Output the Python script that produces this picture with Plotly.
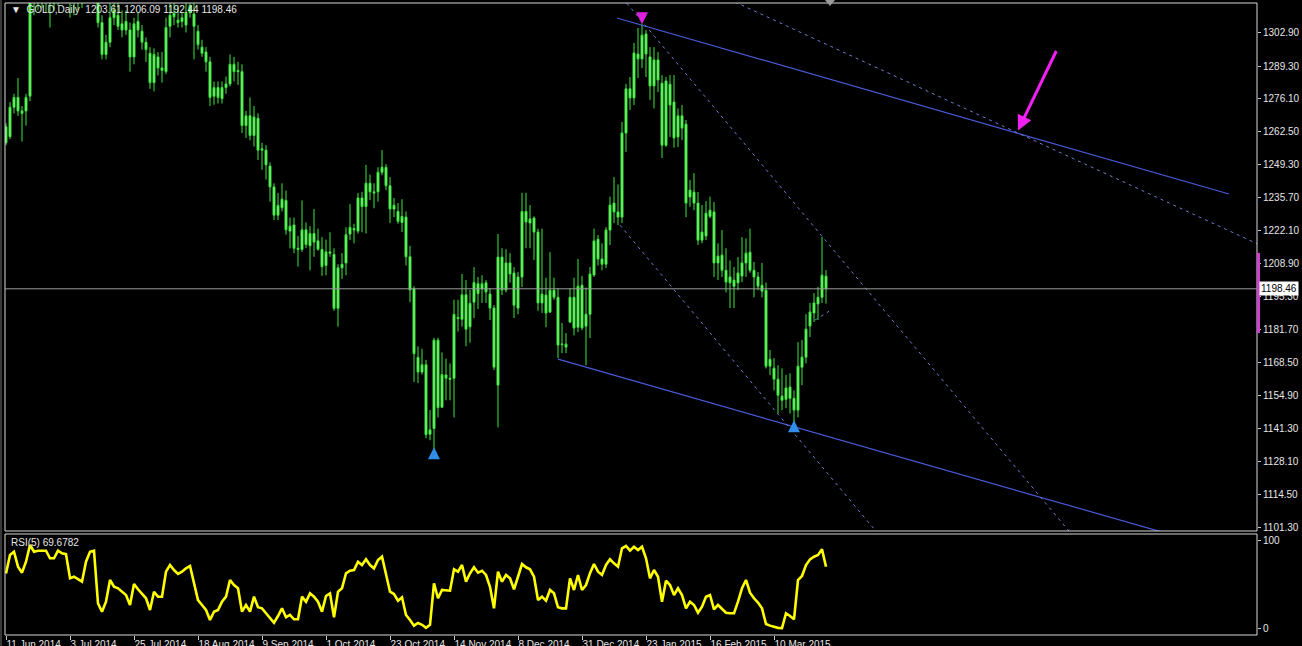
import plotly.graph_objects as go

# ---------------- data ----------------
opens = [
    1264.5, 1260.5, 1272.5, 1276.5, 1271, 1271, 1277, 1316, 1316, 1318,
    1321, 1322, 1315, 1319, 1327, 1326, 1325, 1320, 1318, 1317,
    1324, 1325, 1338, 1337, 1307, 1294, 1299, 1309, 1310, 1306.5,
    1304, 1304, 1293, 1307.5, 1303.5, 1299, 1294.5, 1282.5, 1293, 1288.5,
    1287, 1305.5, 1310.8, 1308, 1307.5, 1306, 1311, 1310.5, 1303.5, 1297,
    1295, 1291, 1277, 1280.5, 1276, 1280.5, 1282, 1290, 1287, 1287,
    1265, 1269, 1261, 1268, 1255, 1255, 1248.5, 1240, 1228.5, 1231.5,
    1234.5, 1222, 1224.5, 1215, 1214.5, 1222.5, 1216, 1221, 1218, 1214.5,
    1208, 1213.5, 1212.5, 1190.5, 1207, 1209, 1220.8, 1223, 1222, 1235.5,
    1232, 1241.5, 1238, 1238, 1246, 1248, 1240.5, 1231, 1230, 1225.5,
    1227.7, 1211.5, 1198.5, 1170.5, 1164.5, 1167.5, 1139.2, 1141.5, 1177.5, 1150.2,
    1163.3, 1162, 1162, 1186.8, 1186, 1196, 1183, 1193, 1200.5, 1198.4,
    1200.9, 1196.3, 1190.6, 1159.2, 1211.4, 1198, 1209, 1204.9, 1190.6, 1203.3,
    1230, 1225.3, 1227.3, 1221.6, 1192.7, 1195.9, 1189, 1197.9, 1195, 1176,
    1174.7, 1184.9, 1195, 1182.8, 1199.9, 1183.2, 1188.1, 1204.1, 1218.7, 1210.6,
    1208.5, 1222.4, 1233.4, 1229.8, 1227.7, 1262, 1280, 1276.3, 1294.2, 1292.2,
    1302.4, 1293, 1281.2, 1291.8, 1282.3, 1257, 1281.9, 1274.6, 1260.4, 1269,
    1265.6, 1235.9, 1237.9, 1233.4, 1218.3, 1220, 1228, 1229.8, 1209, 1212.2,
    1206, 1203.3, 1199.5, 1200.9, 1203.7, 1209, 1213.4, 1206, 1203.3, 1199.9,
    1197.9, 1169.7, 1166.1, 1161.6, 1153, 1158, 1153.8, 1153.8, 1149, 1166.5,
    1170.6, 1183.3, 1188.6, 1192.3, 1195, 1203.61,
]
highs = [
    1266, 1274.6, 1278, 1284.4, 1273, 1278, 1321, 1325, 1324, 1326,
    1325, 1324, 1321, 1328, 1332, 1331, 1327, 1322, 1321, 1325,
    1330, 1345, 1341, 1338, 1310, 1302, 1318, 1318, 1316, 1312,
    1312, 1307, 1309, 1311, 1306, 1301, 1297, 1296.5, 1295, 1295,
    1309, 1316, 1321, 1314, 1311, 1315, 1320, 1321, 1306, 1300,
    1297, 1293, 1283, 1283, 1283, 1285, 1294, 1293, 1291, 1290,
    1271, 1276.5, 1273, 1270, 1258, 1257, 1250, 1241.5, 1237.5, 1241.5,
    1238.5, 1227.5, 1227.5, 1220, 1234.5, 1225.5, 1224, 1231, 1223, 1219.5,
    1218.5, 1221.5, 1215, 1208.5, 1213, 1223.5, 1233, 1225, 1237.5, 1238,
    1249, 1245, 1241.5, 1248, 1255, 1249.3, 1244, 1235.5, 1233.4, 1235,
    1230, 1216, 1199.5, 1175, 1174, 1169.5, 1149, 1178.5, 1178.5, 1172.5,
    1170, 1168, 1194, 1194, 1204.5, 1202, 1198, 1207.3, 1203.3, 1204,
    1202, 1198.7, 1191.8, 1220.8, 1215, 1214.6, 1213, 1207.3, 1205.3, 1237.6,
    1237.6, 1232.6, 1228, 1223, 1223, 1203, 1213.4, 1203, 1198.7, 1184.5,
    1180.4, 1198.7, 1203, 1210.6, 1203.7, 1199, 1207.3, 1223, 1220.4, 1217,
    1223.6, 1236, 1244, 1241, 1266.5, 1282, 1284.8, 1298.7, 1304.8, 1306.5,
    1304, 1297, 1297, 1295, 1285.6, 1284.8, 1285.6, 1285.6, 1272, 1273.4,
    1267.3, 1242.8, 1245.6, 1237.9, 1232.6, 1234.2, 1236, 1233.8, 1217, 1222.4,
    1215, 1210, 1207.3, 1211.4, 1219.5, 1219, 1223, 1209.4, 1205.3, 1209,
    1201, 1173.5, 1170.2, 1167.3, 1166, 1163.3, 1164, 1157, 1176.7, 1177.6,
    1188.1, 1192.7, 1196.7, 1199.2, 1219.6, 1206.09,
]
lows = [
    1257, 1259.5, 1270, 1269, 1258.5, 1265, 1275, 1310, 1312, 1313,
    1311, 1305, 1312, 1314, 1320, 1318, 1309, 1310, 1312, 1313,
    1316, 1322, 1330, 1305, 1292, 1292, 1297, 1306, 1304, 1301,
    1302, 1287, 1290, 1301, 1296, 1291, 1280, 1279, 1285.5, 1282.5,
    1286, 1301, 1306, 1305, 1305, 1303, 1309, 1292, 1296, 1293,
    1287, 1273, 1273.5, 1274, 1274, 1278, 1281, 1283, 1281.6, 1262,
    1260, 1259, 1256.5, 1251, 1247, 1243, 1234, 1226.5, 1226.5, 1230,
    1220.5, 1215, 1213, 1207.5, 1213.5, 1215, 1206, 1211.5, 1214, 1203.7,
    1204, 1211.5, 1189.5, 1183, 1202.5, 1204, 1218.3, 1217, 1221, 1221.5,
    1221, 1234.6, 1231.3, 1234, 1244.8, 1238.7, 1225.3, 1227.7, 1225, 1221.6,
    1208, 1193, 1160.5, 1160, 1163.5, 1137.5, 1136.7, 1132.5, 1146, 1149.8,
    1153, 1153, 1146, 1181, 1183, 1175, 1176.5, 1186.5, 1190.2, 1192.7,
    1192.7, 1185.7, 1165.3, 1142, 1195.9, 1197, 1201, 1186.5, 1188.1, 1199.2,
    1215, 1215, 1210.2, 1189.5, 1188.6, 1182.8, 1188.6, 1194, 1170.2, 1172.2,
    1172.2, 1184.5, 1179.5, 1180.8, 1181.6, 1167.3, 1178.4, 1203.3, 1208, 1206,
    1206.9, 1216.3, 1225.3, 1224.4, 1225.3, 1254.3, 1271.4, 1273.4, 1284.4, 1288.5,
    1284.8, 1275.5, 1272, 1278.7, 1251.8, 1256.3, 1260.4, 1256, 1256.3, 1259.1,
    1227.7, 1231.9, 1230.5, 1216.3, 1217, 1218.3, 1227.3, 1203.3, 1202, 1203.3,
    1197, 1190.6, 1190.6, 1197.9, 1201.2, 1203.3, 1205, 1195, 1197.9, 1195,
    1166, 1163.3, 1157, 1147.6, 1149, 1149.8, 1147.6, 1143, 1146, 1159.2,
    1168.1, 1178.8, 1184.9, 1185.7, 1192.7, 1192.44,
]
closes = [
    1258, 1272.5, 1276.5, 1271, 1270, 1276.5, 1316, 1316, 1318, 1321,
    1322, 1315, 1319, 1327, 1326, 1325, 1320, 1318, 1317, 1324,
    1325, 1338, 1337, 1307, 1294, 1299, 1309, 1312, 1305.5, 1304,
    1307.5, 1293, 1306.5, 1304, 1299, 1296, 1282.5, 1294, 1288.5, 1287.5,
    1305, 1310, 1309.4, 1307, 1309, 1311, 1314, 1305.5, 1298, 1294.5,
    1291, 1276.5, 1280.5, 1276.5, 1280.5, 1282, 1290, 1287, 1287.5, 1265,
    1269, 1261, 1268.5, 1255, 1255.5, 1249, 1240, 1228.5, 1232.5, 1235,
    1222.5, 1224, 1215, 1214.5, 1222.5, 1216.5, 1221, 1217.5, 1214.6, 1207.5,
    1213.5, 1213, 1190.5, 1207, 1208.5, 1220.5, 1223.5, 1222.5, 1235.5, 1232,
    1241.5, 1238, 1237.5, 1246, 1248, 1240.5, 1231, 1232.5, 1226, 1228,
    1211.5, 1198, 1172, 1164.5, 1167.5, 1139, 1141, 1177.5, 1150, 1163.5,
    1162, 1161.6, 1188, 1186.3, 1196, 1182, 1192.5, 1201, 1196.5, 1200.5,
    1197.2, 1190.6, 1166.5, 1211.4, 1198, 1209, 1204.5, 1191.8, 1203.3, 1230,
    1225.7, 1226.9, 1221.6, 1192.7, 1196.3, 1188.6, 1197.9, 1195, 1175.5, 1175.7,
    1175.9, 1195, 1182.5, 1199.5, 1182.5, 1188.1, 1204.5, 1218, 1210.6, 1208.5,
    1222.4, 1232.6, 1229.8, 1227.7, 1262, 1280, 1276.3, 1294.6, 1292.2, 1301.9,
    1294.2, 1281.2, 1291.8, 1283.6, 1257, 1283.2, 1273.4, 1260, 1269, 1264,
    1233.4, 1238.7, 1233.4, 1218.3, 1221.6, 1229.3, 1230.5, 1209, 1211.8, 1206,
    1201.2, 1200.9, 1202, 1204.9, 1209, 1213, 1206, 1203.3, 1199.5, 1197.5,
    1166.9, 1166.9, 1161.6, 1155.1, 1154.7, 1153.4, 1158.4, 1149, 1166.9, 1170.6,
    1182, 1189, 1192.7, 1195, 1204, 1198.46,
]
rsi = [
    62, 83, 86.7, 69.8, 63, 75.4, 94.3, 86.7, 87.9, 87.9,
    87.9, 79.3, 79.3, 87.9, 84.9, 84, 56.6, 58.4, 55.5, 52.8,
    75.4, 86.7, 87.9, 28.3, 18.8, 30.1, 54.7, 47.1, 45.3, 41.4,
    37.7, 26.4, 50.2, 44.2, 39.6, 34, 20.7, 41.4, 35.8, 35.8,
    64.1, 71.7, 66, 61.5, 64.1, 67.9, 70.6, 52.8, 32, 26.4,
    20.7, 9.4, 18.8, 20.7, 30.1, 35.8, 54.7, 49, 45.3, 18.8,
    26.4, 18.8, 35.8, 23.8, 22.6, 17, 11.3, 6.3, 13.9, 22.6,
    12.5, 15.1, 10.2, 10.2, 35.8, 30.1, 39.6, 35.8, 30.1, 18.8,
    36.6, 39.6, 12.5, 41.4, 45.3, 62.3, 65.2, 66, 75.4, 71.7,
    78.1, 71.7, 67.9, 77.4, 81.1, 60.4, 41.4, 38.8, 31.3, 35.1,
    15.1, 9.4, 3, 6, 4, 0.5, 4, 51, 34, 43.4,
    42.6, 42.6, 66.8, 64.1, 71.7, 52.8, 62.3, 69.1, 63, 65.2,
    60.4, 47.1, 22.6, 64.1, 52.8, 60.4, 56.6, 44.2, 58.4, 72.8,
    69.1, 66.8, 58.4, 32, 35.8, 31.3, 43.4, 39.6, 23.8, 22.6,
    22.6, 56.6, 43.4, 60.4, 43.4, 49, 62.3, 72.8, 64.1, 60.4,
    71.7, 78.1, 73.6, 69.8, 90.6, 93.2, 87.9, 92.4, 88.7, 92.4,
    79.3, 56.6, 66, 58.4, 30.1, 53.9, 49, 37.7, 45.3, 37.7,
    22.6, 30.1, 26.4, 17.7, 24.5, 35.8, 37.7, 21.5, 26.4, 22.6,
    17.7, 17, 17, 30.1, 45.3, 54.7, 40.3, 34, 29.1, 22.6,
    4.9, 3, 1.8, 0.5, 0.3, 17, 13.9, 10.2, 54.7, 59.2,
    71.7, 78.1, 81.1, 83, 89.4, 69.68,
]
date_tick_bars = [0, 16, 32, 48, 64, 80, 96, 112, 128, 144, 160, 176, 192]
date_tick_labels = ["11 Jun 2014", "3 Jul 2014", "25 Jul 2014", "18 Aug 2014",
                    "9 Sep 2014", "1 Oct 2014", "23 Oct 2014", "14 Nov 2014",
                    "8 Dec 2014", "31 Dec 2014", "23 Jan 2015", "16 Feb 2015",
                    "10 Mar 2015"]
price_ticks = [1302.90, 1289.30, 1276.10, 1262.50, 1249.30, 1235.70, 1222.10,
               1208.90, 1195.30, 1181.70, 1168.50, 1154.90, 1141.30, 1128.10,
               1114.50, 1101.30]
rsi_ticks = [0, 100]

# trend-line anchors (bar index, price)
upper_line = ([152.75, 305.75], [1308.9, 1237.1])
lower_line = ([138.0, 290.0], [1169.8, 1098.8])
dash_a = ([155.2, 266.5], [1314.9, 1098.2])
dash_b = ([153.5, 218.0], [1224.4, 1098.6])
dash_c = ([182.25, 314.0], [1315.4, 1215.9])
dash_d = ([202.25, 205.75], [1185.7, 1189.3])
sell_sig = ([159], [1306.3])
buy_sig = ([107, 197], [1133.9, 1144.9])
arrow_target = (253, 1263.0)
bid = 1198.46
rsi_now = 69.6782

# ---------------- layout helpers (pixel -> paper) ----------------
W, H = 1302, 646
def pxx(p): return p / W
def pxy(p): return 1 - p / H

L, R = 5, 1257
MT, MB = 3, 531
RT, RB = 534, 635

G = "#3ae83a"
GF = "#8cf58c"
FONT = "Liberation Sans"
TXT = "#e6e6e6"

fig = go.Figure()
idx = list(range(len(closes)))
fig.add_trace(go.Candlestick(
    x=idx, open=opens, high=highs, low=lows, close=closes,
    increasing=dict(line=dict(color=G, width=1), fillcolor=GF),
    decreasing=dict(line=dict(color=G, width=1), fillcolor=GF),
    whiskerwidth=0, showlegend=False, hoverinfo="skip",
    xaxis="x", yaxis="y"))

BLUE = "#4a5ad8"
DASH = "#6f7fd0"
for xs, ys in [upper_line, lower_line]:
    fig.add_trace(go.Scatter(x=xs, y=ys, mode="lines",
                             line=dict(color=BLUE, width=1.2),
                             showlegend=False, hoverinfo="skip"))
for xs, ys in [dash_a, dash_b, dash_c, dash_d]:
    fig.add_trace(go.Scatter(x=xs, y=ys, mode="lines",
                             line=dict(color=DASH, width=1, dash="3px,4px"),
                             showlegend=False, hoverinfo="skip"))

fig.add_trace(go.Scatter(x=sell_sig[0], y=sell_sig[1], mode="markers",
                         marker=dict(symbol="arrow-down", size=12, color="#e020e0"),
                         showlegend=False, hoverinfo="skip"))
fig.add_trace(go.Scatter(x=buy_sig[0], y=buy_sig[1], mode="markers",
                         marker=dict(symbol="arrow-up", size=12, color="#2f8fe8"),
                         showlegend=False, hoverinfo="skip"))

fig.add_trace(go.Scatter(x=idx, y=rsi, mode="lines",
                         line=dict(color="#ffff00", width=2.6),
                         xaxis="x2", yaxis="y2", showlegend=False, hoverinfo="skip"))

xr = [(L - 6) / 4, (R - 6) / 4]
axis_common = dict(showgrid=False, zeroline=False, showline=False, automargin=False)

fig.update_layout(
    width=W, height=H, margin=dict(l=0, r=0, t=0, b=0, pad=0),
    paper_bgcolor="black", plot_bgcolor="black",
    font=dict(family=FONT, size=10, color=TXT),
    xaxis=dict(domain=[pxx(L), pxx(R)], range=xr, anchor="y",
               showticklabels=False, ticks="", rangeslider=dict(visible=False),
               **axis_common),
    yaxis=dict(domain=[pxy(MB), pxy(MT)], range=[1099.7, 1315.0], anchor="x",
               side="right", tickmode="array", tickvals=price_ticks,
               ticktext=[f"{v:.2f}" for v in price_ticks],
               ticks="outside", ticklen=3, tickcolor="#c8c8c8",
               tickfont=dict(family=FONT, size=10, color=TXT), **axis_common),
    xaxis2=dict(domain=[pxx(L), pxx(R)], range=xr, anchor="y2",
                tickmode="array", tickvals=date_tick_bars, ticktext=date_tick_labels,
                ticks="outside", ticklen=4, tickcolor="#c8c8c8", tickangle=0,
                ticklabelposition="outside right",
                tickfont=dict(family=FONT, size=10, color=TXT), **axis_common),
    yaxis2=dict(domain=[pxy(RB), pxy(RT)], range=[-7.6, 106.8], anchor="x2",
                side="right", tickmode="array", tickvals=rsi_ticks,
                ticktext=[str(v) for v in rsi_ticks],
                ticks="outside", ticklen=3, tickcolor="#c8c8c8",
                tickfont=dict(family=FONT, size=10, color=TXT), **axis_common),
)

shapes = []
FR = "#d8d8d8"
shapes.append(dict(type="rect", xref="paper", yref="paper",
                   x0=pxx(L), x1=pxx(R), y0=pxy(MB), y1=pxy(MT),
                   line=dict(color=FR, width=1)))
shapes.append(dict(type="rect", xref="paper", yref="paper",
                   x0=pxx(L), x1=pxx(R), y0=pxy(RB), y1=pxy(RT),
                   line=dict(color=FR, width=1)))
shapes.append(dict(type="line", xref="paper", yref="paper",
                   x0=pxx(1), x1=pxx(1), y0=0, y1=1,
                   line=dict(color="#707070", width=1)))
# bid line
shapes.append(dict(type="line", xref="paper", yref="y",
                   x0=pxx(L), x1=pxx(R), y0=bid, y1=bid,
                   line=dict(color="#9a9a9a", width=1)))
# magenta marker on price scale
shapes.append(dict(type="line", xref="paper", yref="y",
                   x0=pxx(R + 1.5), x1=pxx(R + 1.5), y0=1213.1, y1=1180.4,
                   line=dict(color="#d040d0", width=3)))
# chart-shift triangle at the top
tx = 830
shapes.append(dict(type="path", xref="paper", yref="paper",
                   path=f"M {pxx(tx-5)},{pxy(0)} L {pxx(tx+5)},{pxy(0)} L {pxx(tx)},{pxy(6)} Z",
                   fillcolor="#9a9a9a", line=dict(color="#9a9a9a", width=0)))
fig.update_layout(shapes=shapes)

ann = []
ann.append(dict(xref="paper", yref="paper", x=pxx(9), y=pxy(9.5),
                xanchor="left", yanchor="middle", showarrow=False,
                text="\u25BC\u00a0\u00a0GOLD,Daily\u00a0\u00a01203.61 1206.09 1192.44 1198.46",
                font=dict(family=FONT, size=10, color=TXT)))
ann.append(dict(xref="paper", yref="paper", x=pxx(9), y=pxy(542),
                xanchor="left", yanchor="middle", showarrow=False,
                text=f"RSI(5) {rsi_now:.4f}",
                font=dict(family=FONT, size=10, color=TXT)))
ann.append(dict(xref="paper", yref="y", x=pxx(R + 2), y=bid,
                xanchor="left", yanchor="middle", showarrow=False,
                text=f"{bid:.2f}", bgcolor="white", borderpad=1,
                font=dict(family=FONT, size=10, color="black")))
ann.append(dict(xref="x", yref="y", x=arrow_target[0], y=arrow_target[1],
                ax=39, ay=-81, showarrow=True, arrowcolor="#f020f0",
                arrowwidth=3, arrowhead=2, arrowsize=1, text=""))
fig.update_layout(annotations=ann)

fig.write_html("out.html",
               config={"displayModeBar": False},
               post_script="document.body.style.margin='0';document.body.style.overflow='hidden';")
